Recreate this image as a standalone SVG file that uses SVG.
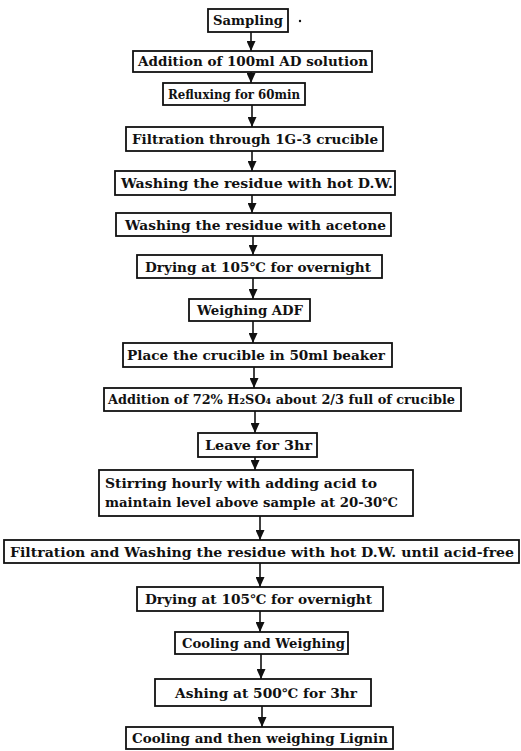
<svg xmlns="http://www.w3.org/2000/svg" width="521" height="751" viewBox="0 0 521 751">
<defs>
<marker id="ah" markerUnits="userSpaceOnUse" markerWidth="10" markerHeight="9" refX="10" refY="4.5" orient="auto" viewBox="0 0 10 9"><path d="M0,0 L10,4.5 L0,9 z" fill="#111"/></marker>
<style>
rect{fill:#fff;stroke:#111;stroke-width:1.8}
text{font-family:"DejaVu Serif","Liberation Serif",serif;font-weight:bold;font-size:13px;fill:#111}
.c line{stroke:#111;stroke-width:1.6;marker-end:url(#ah)}
</style>
</defs>
<rect x="0" y="0" width="521" height="751" style="stroke:none"/>
<g class="c" id="connectors">
<line x1="251" y1="32" x2="251" y2="51"/>
<line x1="251" y1="72" x2="251" y2="83"/>
<line x1="252" y1="105" x2="252" y2="127"/>
<line x1="252" y1="151" x2="252" y2="171"/>
<line x1="252" y1="195" x2="252" y2="213"/>
<line x1="253" y1="236" x2="253" y2="255"/>
<line x1="253" y1="278" x2="253" y2="299"/>
<line x1="253" y1="321" x2="253" y2="343"/>
<line x1="254" y1="367" x2="254" y2="388"/>
<line x1="255" y1="411" x2="255" y2="433"/>
<line x1="255" y1="457" x2="255" y2="470"/>
<line x1="260" y1="516" x2="260" y2="540"/>
<line x1="260" y1="563" x2="260" y2="587"/>
<line x1="260" y1="611" x2="260" y2="632"/>
<line x1="261" y1="654" x2="261" y2="679"/>
<line x1="262" y1="706" x2="262" y2="727"/>
</g>
<g id="n1"><rect x="208" y="9" width="80" height="23"/><text x="213" y="25" textLength="70" lengthAdjust="spacingAndGlyphs">Sampling</text></g>
<circle cx="300" cy="21" r="1.2" fill="#111"/>
<g id="n2"><rect x="133" y="51" width="239" height="21"/><text x="138" y="66" textLength="230" lengthAdjust="spacingAndGlyphs">Addition of 100ml AD solution</text></g>
<g id="n3"><rect x="163" y="83" width="142" height="22"/><text x="168" y="99" textLength="132" lengthAdjust="spacingAndGlyphs">Refluxing for 60min</text></g>
<g id="n4"><rect x="126" y="127" width="257" height="24"/><text x="132" y="144" textLength="246" lengthAdjust="spacingAndGlyphs">Filtration through 1G-3 crucible</text></g>
<g id="n5"><rect x="115" y="171" width="280" height="24"/><text x="121" y="188" textLength="272" lengthAdjust="spacingAndGlyphs">Washing the residue with hot D.W.</text></g>
<g id="n6"><rect x="116" y="213" width="275" height="23"/><text x="125" y="230" textLength="261" lengthAdjust="spacingAndGlyphs">Washing the residue with acetone</text></g>
<g id="n7"><rect x="137" y="255" width="245" height="23"/><text x="145" y="272" textLength="226" lengthAdjust="spacingAndGlyphs">Drying at 105℃ for overnight</text></g>
<g id="n8"><rect x="189" y="299" width="121" height="22"/><text x="197" y="315" textLength="106" lengthAdjust="spacingAndGlyphs">Weighing ADF</text></g>
<g id="n9"><rect x="123" y="343" width="269" height="24"/><text x="127" y="360" textLength="258" lengthAdjust="spacingAndGlyphs">Place the crucible in 50ml beaker</text></g>
<g id="n10"><rect x="104" y="388" width="357" height="23"/><text x="108" y="404" textLength="347" lengthAdjust="spacingAndGlyphs">Addition of 72% H₂SO₄ about 2/3 full of crucible</text></g>
<g id="n11"><rect x="198" y="433" width="119" height="24"/><text x="205" y="450" textLength="107" lengthAdjust="spacingAndGlyphs">Leave for 3hr</text></g>
<g id="n12"><rect x="99" y="470" width="314" height="46"/><text x="105" y="488" textLength="272" lengthAdjust="spacingAndGlyphs">Stirring hourly with adding acid to</text><text x="105" y="507" textLength="293" lengthAdjust="spacingAndGlyphs">maintain level above sample at 20-30℃</text></g>
<g id="n13"><rect x="4" y="540" width="515" height="23"/><text x="10" y="557" textLength="504" lengthAdjust="spacingAndGlyphs">Filtration and Washing the residue with hot D.W. until acid-free</text></g>
<g id="n14"><rect x="137" y="587" width="246" height="24"/><text x="145" y="604" textLength="227" lengthAdjust="spacingAndGlyphs">Drying at 105℃ for overnight</text></g>
<g id="n15"><rect x="175" y="632" width="173" height="22"/><text x="182" y="648" textLength="163" lengthAdjust="spacingAndGlyphs">Cooling and Weighing</text></g>
<g id="n16"><rect x="155" y="679" width="216" height="27"/><text x="175" y="698" textLength="182" lengthAdjust="spacingAndGlyphs">Ashing at 500℃ for 3hr</text></g>
<g id="n17"><rect x="126" y="727" width="267" height="22"/><text x="132" y="743" textLength="256" lengthAdjust="spacingAndGlyphs">Cooling and then weighing Lignin</text></g>
</svg>
